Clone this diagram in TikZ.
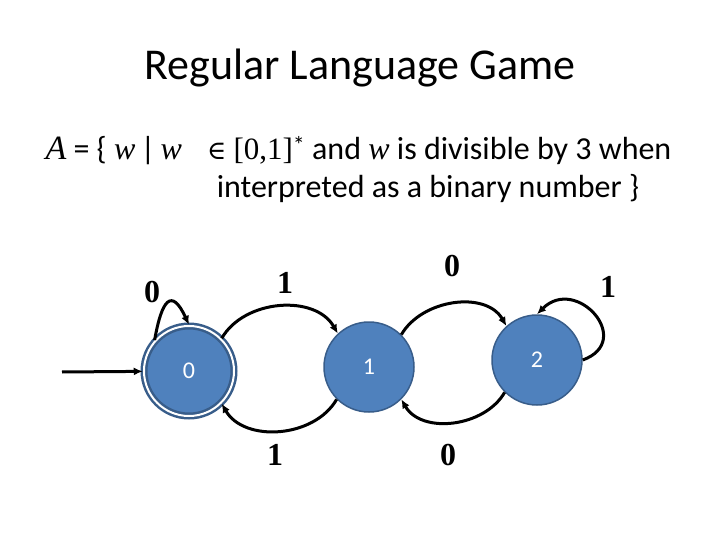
\documentclass[tikz,border=0pt]{standalone}
\usepackage{fontspec}
\setmainfont{Carlito}
\newfontfamily\symfont{Liberation Serif}
\newfontfamily\opfont{DejaVu Serif}
\usetikzlibrary{arrows.meta}
\definecolor{stfill}{RGB}{79,129,189}
\definecolor{stline}{RGB}{56,93,138}
\newcommand{\mv}[1]{{\symfont\itshape #1}}
\tikzset{
  state/.style={circle, fill=stfill, draw=stline, line width=1.5pt, minimum size=90pt,
    text=white, font=\fontsize{24}{28}\selectfont},
  accept/.style={state, double=white, double distance=2pt, line width=2.5pt},
  trans/.style={-{Latex[length=9pt,width=8pt]}, line width=3pt},
  sym/.style={font=\fontsize{32}{36}\selectfont\symfont\bfseries}
}
\begin{document}
\begin{tikzpicture}[x=1pt,y=-1pt]
  \useasboundingbox[fill=white] (0,0) rectangle (720,540);
  % title and language
  \node (title) at (360,68) {\fontsize{44}{52}\selectfont Regular Language Game};
  \node[anchor=west] (lang1) at (42,151) {\fontsize{32}{36}\selectfont
    {\fontsize{34}{36}\selectfont\mv{A}} = \{ \mv{w}\,|\,\mv{w}\;\; {\opfont\fontsize{26}{30}\selectfont ∈}
    {\symfont\fontsize{31}{36}\selectfont[0,1]}\raisebox{6pt}{\fontsize{24}{28}\selectfont *} and \mv{w} is divisible by 3 when};
  \node (lang2) at (428,189) {\fontsize{32}{36}\selectfont interpreted as a binary number \}};
  % states
  \node[accept] (q0) at (189,371) {0};
  \node[state] (q1) at (369,367) {1};
  \node[state] (q2) at (537,360) {2};
  \coordinate (start) at (62,372);
  % transitions
  \draw[trans] (start) -- (q0);
  \draw[trans] (q0.138) to[out=80,in=115,looseness=2.8] (q0.90);
  \draw[trans] (q0.45) to[out=60,in=120] (q1.133);
  \draw[trans] (q1.225) to[out=240,in=300] (q0.-45);
  \draw[trans] (q1.45) to[out=60,in=120] (q2.132);
  \draw[trans] (q2.225) to[out=240,in=300] (q1.-45);
  \draw[trans] (q2.0) to[out=20,in=45,looseness=2.2] (q2.90);
  % labels
  \node[sym] (l00) at (152,292) {0};
  \node[sym] (l01) at (285,283) {1};
  \node[sym] (l10) at (275,455) {1};
  \node[sym] (l12) at (452,266) {0};
  \node[sym] (l21) at (448,455) {0};
  \node[sym] (l22) at (608,287) {1};
\end{tikzpicture}
\end{document}
